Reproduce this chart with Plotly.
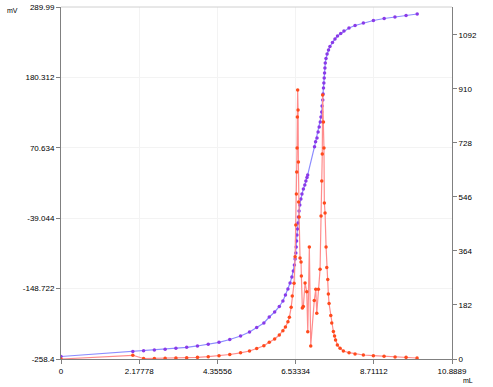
import plotly.graph_objects as go

# Titration curve (mV vs mL)
vol_mv = [0.00, 2.00, 2.30, 2.60, 2.90, 3.20, 3.50, 3.80, 4.10, 4.40, 4.70, 5.00, 5.25, 5.45,
          5.65, 5.80, 5.95, 6.08, 6.18, 6.25, 6.32, 6.38, 6.43, 6.47, 6.50, 6.52, 6.54, 6.55,
          6.56, 6.57, 6.585, 6.60, 6.61, 6.63, 6.65, 6.68, 6.71, 6.75, 6.79, 6.82, 6.85, 6.87,
          7.06, 7.09, 7.13, 7.16, 7.19, 7.22, 7.24, 7.26, 7.27, 7.29, 7.30, 7.31, 7.32, 7.33,
          7.34, 7.35, 7.36, 7.38, 7.41, 7.45, 7.49, 7.56, 7.63, 7.70, 7.79, 7.88, 8.02, 8.19,
          8.42, 8.70, 9.00, 9.30, 9.61, 9.92]
mv = [-254.5, -246.7, -245.6, -244.4, -243.1, -241.7, -240.2, -238.1, -235.5, -232.4, -228.0,
      -222.6, -216.3, -209.3, -202.3, -193.0, -185.2, -176.6, -168.0, -158.7, -149.3, -140.0,
      -130.6, -121.3, -111.9, -102.6, -93.3, -83.9, -74.6, -65.2, -55.9, -46.5, -37.2, -27.8,
      -18.5, -9.1, -1.3, 6.5, 12.7, 18.9, 24.4, 28.3, 72.4, 80.1, 85.9, 95.3, 103.1, 110.8,
      118.6, 126.4, 135.8, 145.1, 154.5, 163.8, 171.6, 179.4, 187.2, 195.0, 202.8, 209.8,
      216.8, 223.0, 228.5, 234.7, 240.2, 244.8, 248.7, 252.6, 257.3, 261.2, 265.1, 269.0,
      272.1, 274.4, 276.8, 279.1]

# First derivative curve
vol_d = [0.00, 2.00, 2.30, 2.60, 2.90, 3.20, 3.50, 3.80, 4.10, 4.40, 4.70, 5.00, 5.25, 5.45,
         5.65, 5.80, 5.95, 6.08, 6.18, 6.25, 6.32, 6.36, 6.41, 6.44, 6.49, 6.52, 6.54, 6.555,
         6.565, 6.574, 6.582, 6.591, 6.602, 6.610, 6.618, 6.632, 6.657, 6.685, 6.694, 6.721,
         6.749, 6.797, 6.844, 6.872, 6.916, 6.955, 7.053, 7.095, 7.123, 7.167, 7.215, 7.242,
         7.262, 7.276, 7.287, 7.309, 7.323, 7.334, 7.354, 7.382, 7.401, 7.429, 7.446, 7.465,
         7.513, 7.540, 7.585, 7.618, 7.646, 7.696, 7.772, 7.864, 8.022, 8.189, 8.421, 8.699,
         8.997, 9.304, 9.610, 9.916]
deriv = [0.0, 12.5, 1.7, 2.0, 2.7, 3.4, 4.4, 5.7, 7.8, 10.8, 15.2, 20.9, 27.0, 35.4, 44.8,
         56.3, 67.4, 80.9, 95.4, 107.8, 125.7, 140.5, 174.2, 212.3, 255.1, 344.8, 451.6,
         556.1, 630.2, 711.1, 815.5, 906.5, 839.1, 663.9, 529.1, 478.5, 340.4, 326.9, 279.7,
         171.9, 176.9, 256.1, 226.8, 92.0, 377.4, 43.8, 197.1, 234.9, 154.0, 234.9, 302.3,
         481.9, 599.9, 690.9, 889.7, 798.7, 711.1, 525.7, 492.0, 377.4, 308.4, 267.9, 219.1,
         187.0, 146.6, 121.3, 92.7, 77.5, 64.0, 47.2, 36.1, 27.0, 21.2, 16.9, 13.5, 11.1,
         9.1, 6.7, 5.7, 3.4]

x_ticks = [0, 2.17778, 4.35556, 6.53334, 8.71112, 10.8889]
x_labels = ["0", "2.17778", "4.35556", "6.53334", "8.71112", "10.8889"]
y_ticks = [-258.4, -148.722, -39.044, 70.634, 180.312, 289.99]
y_labels = ["-258.4", "-148.722", "-39.044", "70.634", "180.312", "289.99"]
y2_ticks = [0, 182, 364, 546, 728, 910, 1092]
y2_labels = ["0", "182", "364", "546", "728", "910", "1092"]

fig = go.Figure()
fig.add_trace(go.Scatter(
    x=vol_d, y=deriv, yaxis="y2", mode="lines+markers",
    line=dict(color="#ff8c8c", width=1.2),
    marker=dict(color="#ff4a1c", size=3.5), showlegend=False))
fig.add_trace(go.Scatter(
    x=vol_mv, y=mv, mode="lines+markers",
    line=dict(color="#8c8cff", width=1.2),
    marker=dict(color="#8a3ae8", size=3.5), showlegend=False))

font = dict(family="Liberation Sans, Arial", size=8, color="black")
fig.update_layout(
    width=493, height=387,
    margin=dict(l=61, r=41, t=7, b=28),
    paper_bgcolor="white", plot_bgcolor="white",
    font=font,
    xaxis=dict(range=[0, 10.8889], tickvals=x_ticks, ticktext=x_labels,
               showline=True, linecolor="#808080", linewidth=1,
               ticks="outside", ticklen=4, tickcolor="#808080",
               showgrid=True, gridcolor="#f3f3f3", zeroline=False,
               tickfont=font, automargin=False),
    yaxis=dict(range=[-258.4, 289.99], tickvals=y_ticks, ticktext=y_labels,
               showline=True, linecolor="#808080", linewidth=1,
               ticks="outside", ticklen=4, tickcolor="#808080",
               showgrid=True, gridcolor="#f3f3f3", zeroline=False,
               tickfont=font, automargin=False),
    yaxis2=dict(range=[0, 1186], tickvals=y2_ticks, ticktext=y2_labels,
                overlaying="y", side="right",
                showline=True, linecolor="#808080", linewidth=1,
                ticks="outside", ticklen=4, tickcolor="#808080",
                showgrid=False, zeroline=False, tickfont=font, automargin=False),
    shapes=[dict(type="line", xref="paper", yref="paper", x0=0, x1=1, y0=1, y1=1,
                 line=dict(color="#d0d0d0", width=1))],
    annotations=[
        dict(text="mV", xref="paper", yref="paper", x=-0.125, y=0.99,
             xanchor="center", yanchor="middle", showarrow=False,
             font=dict(family="Liberation Sans, Arial", size=7, color="black")),
        dict(text="mL", xref="paper", yref="paper", x=1.04, y=-0.06,
             xanchor="center", yanchor="middle", showarrow=False,
             font=dict(family="Liberation Sans, Arial", size=7, color="black")),
    ],
)

fig.write_html("out.html", config={"displayModeBar": False},
               post_script="document.body.style.margin='0';document.body.style.padding='0';")
